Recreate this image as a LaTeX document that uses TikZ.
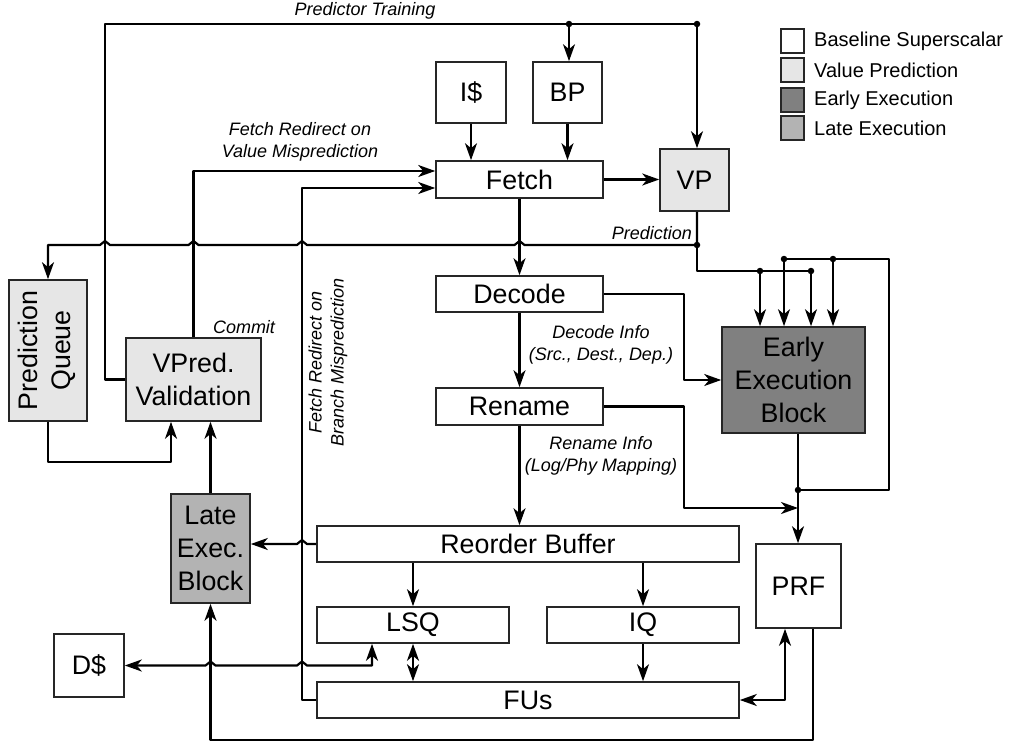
\documentclass[tikz,border=0pt]{standalone}
\usepackage{fontspec}
\setmainfont{Liberation Sans}
\usetikzlibrary{arrows.meta}
\definecolor{vpc}{HTML}{E6E6E6}
\definecolor{eec}{HTML}{808080}
\definecolor{lec}{HTML}{B3B3B3}
\begin{document}
\begin{tikzpicture}[x=1pt,y=-1pt,
  blk/.style={draw=black!85, line width=1.6pt, inner sep=0pt, align=center, font=\fontsize{26.8}{33}\selectfont},
  lab/.style={font=\fontsize{18}{22}\selectfont\itshape, align=center, inner sep=0pt},
  wire/.style={line width=2.2pt, line join=round},
  arr/.style={wire, -{Stealth[length=17pt,width=12pt,inset=5pt]}},
  darr/.style={wire, {Stealth[length=17pt,width=12pt,inset=5pt]}-{Stealth[length=17pt,width=12pt,inset=5pt]}},
  jdot/.style={circle, fill=black, inner sep=0pt, minimum size=6.5pt},
  lgbox/.style={draw=black!85, line width=1.6pt, minimum width=23pt, minimum height=24pt, inner sep=0pt},
  lgtext/.style={anchor=west, inner sep=0pt, font=\fontsize{20}{24}\selectfont}]
\useasboundingbox (0,0) rectangle (1011,744);

% boxes
\node[blk, minimum width=70pt, minimum height=61pt] (icache) at (471,92.5) {I\$};
\node[blk, minimum width=69pt, minimum height=61pt] (bp) at (567.5,92.5) {BP};
\node[blk, minimum width=167pt, minimum height=37pt] (fetch) at (519.5,179.5) {Fetch};
\node[blk, fill=vpc, minimum width=69pt, minimum height=62pt] (vp) at (694.5,180) {VP};
\node[blk, minimum width=167pt, minimum height=36pt] (decode) at (519.5,294) {Decode};
\node[blk, minimum width=167pt, minimum height=37pt] (rename) at (519.5,406.5) {Rename};
\node[blk, fill=eec, minimum width=143pt, minimum height=106pt] (eeb) at (793.5,380) {Early\\Execution\\Block};
\node[blk, minimum width=422pt, minimum height=36pt] (rob) at (528,544) {Reorder Buffer};
\node[blk, minimum width=192pt, minimum height=36pt] (lsq) at (413,625) {LSQ};
\node[blk, minimum width=192pt, minimum height=36pt] (iq) at (643,625) {IQ};
\node[blk, minimum width=422pt, minimum height=36pt] (fus) at (528,700) {FUs};
\node[blk, minimum width=85pt, minimum height=84pt] (prf) at (798.5,586) {PRF};
\node[blk, fill=lec, minimum width=79pt, minimum height=109pt] (late) at (210.5,548.5) {Late\\Exec.\\Block};
\node[blk, fill=vpc, minimum width=135pt, minimum height=83pt] (vpred) at (193.5,379.5) {VPred.\\Validation};
\node[blk, fill=vpc, minimum width=78pt, minimum height=141pt] (pq) at (48,350.5) {};
\node[blk, draw=none, rotate=90] (pqt) at (47,350.5) {Prediction\\Queue};
\node[blk, minimum width=70pt, minimum height=63pt] (dcache) at (89,665.5) {D\$};

% labels
\node[lab] (ptl) at (365,11) {Predictor Training};
\node[lab] (vml) at (300,142) {Fetch Redirect on\\Value Misprediction};
\node[lab, rotate=90] (bml) at (328,362) {Fetch Redirect on\\Branch Misprediction};
\node[lab, anchor=east] (prl) at (692,233) {Prediction};
\node[lab] (cml) at (244,327) {Commit};
\node[lab] (dil) at (601,345) {Decode Info\\(Src., Dest., Dep.)};
\node[lab] (ril) at (601,455.5) {Rename Info\\(Log/Phy Mapping)};

% legend
\node[lgbox] (lg1) at (792.5,41) {};
\node[lgbox, fill=vpc] (lg2) at (792.5,70) {};
\node[lgbox, fill=eec] (lg3) at (792.5,100) {};
\node[lgbox, fill=lec] (lg4) at (792.5,128) {};
\node[lgtext] (lt1) at (814,41) {Baseline Superscalar};
\node[lgtext] (lt2) at (814,70) {Value Prediction};
\node[lgtext] (lt3) at (814,100) {Early Execution};
\node[lgtext] (lt4) at (814,128) {Late Execution};

% junction coordinates
\coordinate (tb) at (569,24);
\coordinate (tv) at (697,24);
\coordinate (pv) at (697,245);
\coordinate (pe) at (697,271);
\coordinate (e1) at (760,271);
\coordinate (e2) at (811,271);
\coordinate (fb) at (798,490);
\coordinate (f1) at (784,259);
\coordinate (f2) at (833,259);
\coordinate (rj) at (798,508);
\coordinate (pqv) at (171,462);

% front end
\draw[arr] (icache.south) -- (icache.south |- fetch.north);
\draw[arr] (bp.south) -- (bp.south |- fetch.north);
\draw[arr] (fetch.east) -- (fetch.east -| vp.west);
\draw[arr] (fetch.south) -- (decode.north);
\draw[arr] (decode.south) -- (rename.north);
\draw[arr] (rename.south) -- (rename.south |- rob.north);

% predictor training
\draw[arr] (vpred.west) -- (105,379.5) -- (105,24) -- (tv) -- (tv |- vp.north);
\draw[arr] (tb) -- (tb |- bp.north);

% prediction
\draw[arr] (tv |- vp.south) -- (pv) -- (524.5,245) -- (519.5,241) -- (514.5,245)
  -- (307,245) -- (302,241) -- (297,245) -- (198.5,245) -- (193.5,241) -- (188.5,245)
  -- (110,245) -- (105,241) -- (100,245) -- (48,245) -- (pq.north);
\draw[wire] (pv) -- (pe) -- (e2);
\draw[arr] (e1) -- (e1 |- eeb.north);
\draw[arr] (e2) -- (e2 |- eeb.north);

% early execution
\draw[arr] (fb |- eeb.south) -- (fb |- prf.north);
\draw[arr] (fb) -- (889,490) -- (889,259) -- (f1) -- (f1 |- eeb.north);
\draw[arr] (f2) -- (f2 |- eeb.north);
\draw[arr] (decode.east) -- (684,294) |- (eeb.west);
\draw[arr] (rename.east) -- (684,406.5) |- (rj);

% redirects
\draw[arr] (vpred.north) |- ([yshift=8.5pt]fetch.west);
\draw[arr] (fus.west) -- (302,700) -- (302,188) -- ([yshift=-8.5pt]fetch.west);

% back end
\draw[arr] (rob.west) -- (307,544) -- (302,540) -- (297,544) -- (late.east |- rob.west);
\draw[arr] (late.north) -- (late.north |- vpred.south);
\draw[arr] (pq.south) |- (pqv) -- (pqv |- vpred.south);
\draw[arr] (lsq.north |- rob.south) -- (lsq.north);
\draw[arr] (iq.north |- rob.south) -- (iq.north);
\draw[darr] (lsq.south) -- (lsq.south |- fus.north);
\draw[arr] (iq.south) -- (iq.south |- fus.north);
\draw[darr] ([xshift=-13.5pt]prf.south) |- (fus.east);
\draw[arr] ([xshift=14.5pt]prf.south) -- (813,740) -- (210.5,740) -- (late.south);
\draw[darr] ([xshift=-41pt]lsq.south) -- (372,665.5) -- (307,665.5) -- (302,661.5) -- (297,665.5)
  -- (215.5,665.5) -- (210.5,661.5) -- (205.5,665.5) -- (dcache.east);

% dots
\foreach \p in {tb,tv,pv,e1,e2,fb,f1,f2} \node[jdot] at (\p) {};
\end{tikzpicture}
\end{document}
